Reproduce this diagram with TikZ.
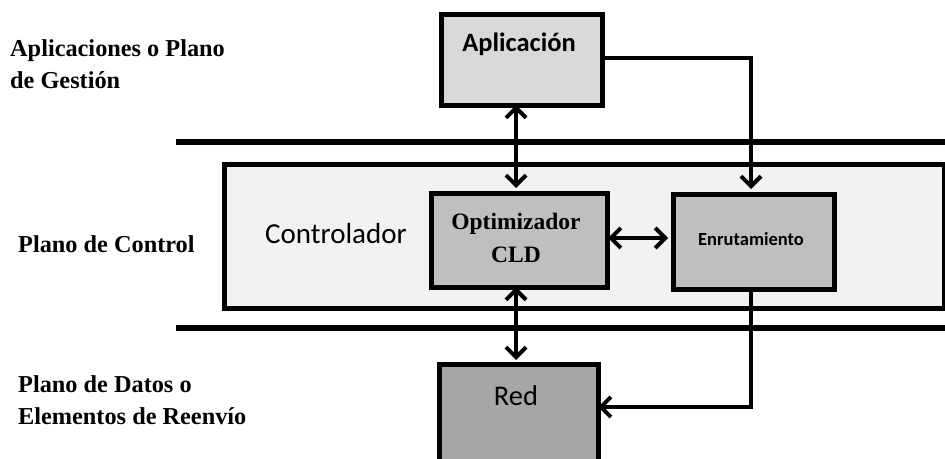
\documentclass[tikz,border=0pt]{standalone}
\usepackage{fontspec}
\setmainfont{Liberation Serif}
\newfontfamily\calib{Carlito}
\usetikzlibrary{arrows.meta}
\definecolor{appfill}{HTML}{D9D9D9}
\definecolor{ctrlfill}{HTML}{F2F2F2}
\definecolor{optfill}{HTML}{BFBFBF}
\definecolor{redfill}{HTML}{A6A6A6}
\tikzset{
  blk/.style={draw=black, line width=5pt, inner sep=0pt, anchor=north west},
  planelbl/.style={anchor=west, align=left, inner sep=0pt, font=\fontsize{24.3}{32}\selectfont\bfseries},
  tipb/.tip={Straight Barb[length=10pt,width=20pt,line width=4pt]},
  conn/.style={line width=4.5pt, tipb-tipb},
  conn1/.style={line width=4pt, -tipb},
  bar/.style={line width=6pt}
}
\begin{document}
\begin{tikzpicture}[x=1pt,y=-1pt]
\useasboundingbox (0,0) rectangle (945,458);
% bars
\draw[bar] (176,142) -- (945,142);
\draw[bar] (176,328) -- (945,328);
% controller box
\node[blk, fill=ctrlfill, line width=4.5pt, minimum width=720pt, minimum height=144pt] (ctrl) at (222,162) {};
\node[font=\calib\fontsize{29}{33}\selectfont, anchor=center] (ctrltxt) at (336,234) {Controlador};
% boxes
\node[blk, fill=appfill, minimum width=161pt, minimum height=91pt] (app) at (439,12) {};
\node[font=\calib\bfseries\fontsize{26.5}{30}\selectfont] at (519,44) {Aplicación};
\node[blk, fill=optfill, minimum width=176pt, minimum height=94pt] (opt) at (429,191) {};
\node[font=\bfseries\fontsize{23.5}{33}\selectfont, align=center] at (516,238) {Optimizador\\CLD};
\node[blk, fill=optfill, minimum width=161pt, minimum height=95pt] (enr) at (671,192) {};
\node[font=\calib\bfseries\fontsize{18.5}{22}\selectfont] at (751,239) {Enrutamiento};
\node[blk, fill=redfill, minimum width=159pt, minimum height=100pt] (red) at (437,362) {};
\node[font=\calib\fontsize{28.5}{32}\selectfont] at (516,396) {Red};
% labels
\node[planelbl] (l1) at (10,64) {Aplicaciones o Plano\\de Gestión};
\node[planelbl] (l2) at (18,244) {Plano de Control};
\node[planelbl] (l3) at (18,400) {Plano de Datos o\\Elementos de Reenvío};
% connectors
\coordinate (c1) at (751,58);
\coordinate (c2) at (751,407);
\draw[conn] (516,105) -- (516,188);
\draw[conn] (516,287) -- (516,360);
\draw[conn] (608,238) -- (668,238);
\draw[conn1] (app.east |- c1) -- (c1) -- (751,189);
\draw[conn1] (751,289) -- (c2) -- (598,407);
\end{tikzpicture}
\end{document}
